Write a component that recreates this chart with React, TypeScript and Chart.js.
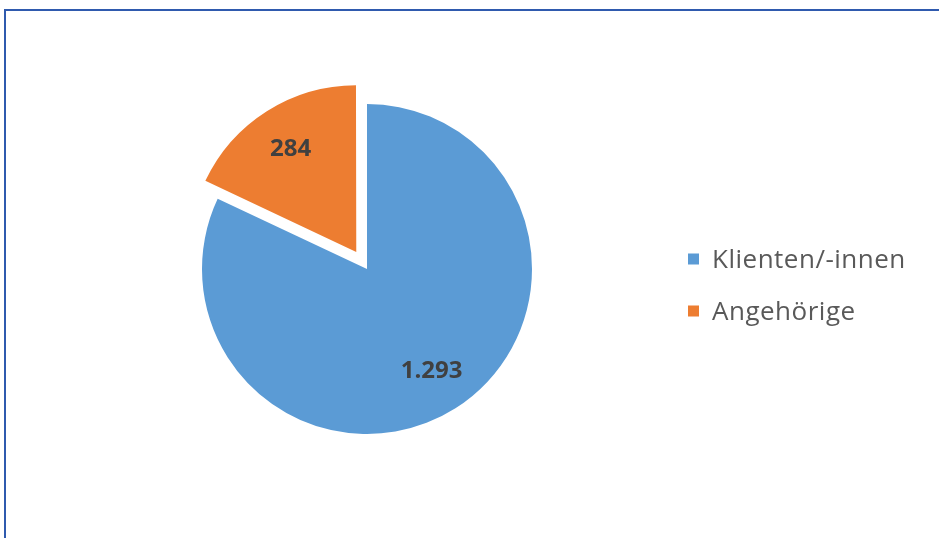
import React, { useEffect, useRef } from "react";
import { Chart, registerables } from "chart.js";

Chart.register(...registerables);

const categories = ["Klienten/-innen", "Angehörige"];
const values = [1293, 284];
const colors = ["#5B9BD5", "#ED7D31"];
// Chart.js arc "offset" option (it translates the slice by offset/4 * (2 - sin(circumference)))
const offsets = [0, 80];

const fmt = (v: number) => v.toLocaleString("de-DE");

const arcShift = (arc: any) => {
  const off = (arc.options.offset || 0) / 4;
  const circ = arc.circumference;
  const fix = 1 - Math.sin(Math.min(Math.PI, circ || 0));
  return off + off * fix;
};

const framePlugin = {
  id: "frame",
  beforeDraw(chart: any) {
    const { ctx, width, height } = chart;
    ctx.save();
    ctx.fillStyle = "#ffffff";
    ctx.fillRect(0, 0, width, height);
    ctx.strokeStyle = "#2F5AAE";
    ctx.lineWidth = 2;
    ctx.beginPath();
    ctx.moveTo(5, height + 5);
    ctx.lineTo(5, 10);
    ctx.lineTo(width + 5, 10);
    ctx.stroke();
    ctx.restore();
  },
};

const labelPlugin = {
  id: "sliceLabels",
  afterDatasetsDraw(chart: any) {
    const { ctx } = chart;
    const meta = chart.getDatasetMeta(0);
    const ds = chart.data.datasets[0];
    ctx.save();
    ctx.font = "bold 24px 'Open Sans'";
    ctx.fillStyle = "#404040";
    ctx.textAlign = "center";
    ctx.textBaseline = "middle";
    meta.data.forEach((arc: any, i: number) => {
      const p = arc.getProps(["x", "y", "startAngle", "endAngle", "outerRadius"], true);
      const mid = (p.startAngle + p.endAngle) / 2;
      const r = arcShift(arc) + p.outerRadius * 0.73;
      const x = p.x + Math.cos(mid) * r;
      const y = p.y + Math.sin(mid) * r;
      ctx.fillText(fmt(ds.data[i]), x, y);
    });
    ctx.restore();
  },
};

const legendPlugin = {
  id: "sideLegend",
  afterDraw(chart: any) {
    const { ctx } = chart;
    const labels = chart.data.labels as string[];
    const bg = chart.data.datasets[0].backgroundColor as string[];
    const x0 = 688;
    const y0 = 259;
    const rowH = 52;
    const box = 11;
    ctx.save();
    ctx.font = "26px 'Open Sans'";
    (ctx as any).letterSpacing = "0.5px";
    ctx.textBaseline = "alphabetic";
    ctx.textAlign = "left";
    labels.forEach((lab, i) => {
      const cy = y0 + i * rowH;
      ctx.fillStyle = bg[i];
      ctx.fillRect(x0, cy - box / 2, box, box);
      ctx.fillStyle = "#595959";
      ctx.fillText(lab, x0 + 24, cy + 9);
    });
    ctx.restore();
  },
};

export default function App() {
  const ref = useRef<HTMLCanvasElement>(null);
  useEffect(() => {
    if (!ref.current) return;
    const chart = new Chart(ref.current, {
      type: "pie",
      data: {
        labels: categories,
        datasets: [
          {
            data: values,
            backgroundColor: colors,
            borderWidth: 0,
            offset: offsets,
          },
        ],
      },
      options: {
        responsive: false,
        animation: false,
        radius: 165,
        layout: { padding: { left: 0, right: 205, top: 0, bottom: 0 } },
        plugins: {
          legend: { display: false },
          tooltip: { enabled: false },
        },
      } as any,
      plugins: [framePlugin, labelPlugin, legendPlugin],
    });
    return () => chart.destroy();
  }, []);
  return (
    <div style={{ position: "fixed", left: 0, top: 0, width: 939, height: 538, background: "#fff" }}>
      <canvas ref={ref} width={939} height={538} style={{ display: "block" }} />
    </div>
  );
}
